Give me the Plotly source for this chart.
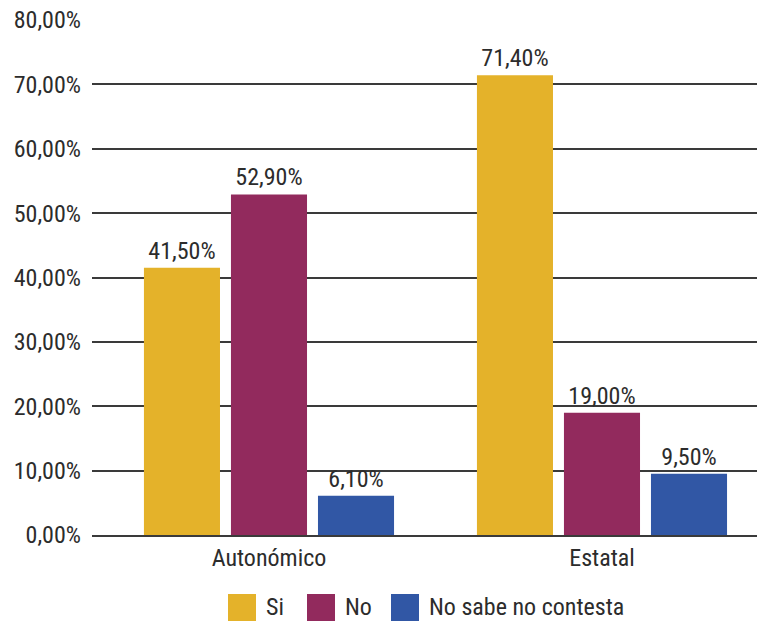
import plotly.graph_objects as go

categories = ["Autonómico", "Estatal"]
series_names = ["Si", "No", "No sabe no contesta"]
si_values = [0.415, 0.714]
no_values = [0.529, 0.190]
nsnc_values = [0.061, 0.095]
colors = ["#E4B22A", "#922A5D", "#3157A5"]
y_ticks = [0, 0.1, 0.2, 0.3, 0.4, 0.5, 0.6, 0.7, 0.8]

FONT = "Roboto Condensed, DejaVu Sans Condensed, Liberation Sans, sans-serif"
FS = 24
FW = 400
TXT = "#2c2c2c"
W, H = 757, 621
ML, MR, MT, MB = 92, 0, 20, 86

fig = go.Figure()
for name, vals, col in zip(series_names, [si_values, no_values, nsnc_values], colors):
    fig.add_trace(go.Bar(
        x=[0, 1], y=vals, name=name, marker=dict(color=col, line=dict(width=0)),
        texttemplate="%{y:.2%}", textposition="outside",
        textfont=dict(family=FONT, size=FS, color=TXT, weight=FW), cliponaxis=False,
        showlegend=False,
    ))

# manual legend (large square swatches)
pw = W - ML - MR
ph = H - MT - MB
def px_to_paper_x(px):
    return (px - ML) / pw
def py_to_paper_y(py):
    return (H - MB - py) / ph

shapes = []
annotations = []
sw_left = [228, 307, 391]
for name, col, x0 in zip(series_names, colors, sw_left):
    shapes.append(dict(type="rect", xref="paper", yref="paper",
                       x0=px_to_paper_x(x0), x1=px_to_paper_x(x0 + 28),
                       y0=py_to_paper_y(621), y1=py_to_paper_y(594),
                       fillcolor=col, line=dict(width=0)))
    annotations.append(dict(xref="paper", yref="paper", x=px_to_paper_x(x0 + 36),
                            y=py_to_paper_y(607), text=name, showarrow=False,
                            xanchor="left", yanchor="middle",
                            font=dict(family=FONT, size=FS, color=TXT, weight=FW)))

fig.update_layout(
    width=W, height=H,
    margin=dict(l=ML, r=MR, t=MT, b=MB, pad=0, autoexpand=False),
    paper_bgcolor="white", plot_bgcolor="white",
    separators=",.",
    barmode="group", bargap=0.216, bargroupgap=0.126,
    font=dict(family=FONT, size=FS, color=TXT, weight=FW),
    shapes=shapes, annotations=annotations,
    showlegend=False,
)
fig.update_xaxes(
    range=[-0.5315, 1.4655], tickmode="array", tickvals=[0, 1], ticktext=categories,
    showgrid=False, zeroline=False, showline=True, linecolor="#3a3a3a", linewidth=1.5,
    ticks="", ticklen=0, layer="above traces", automargin=False,
    tickfont=dict(family=FONT, size=FS, color=TXT, weight=FW),
)
fig.update_yaxes(
    range=[0, 0.8], tickmode="array", tickvals=y_ticks, tickformat=".2%",
    showgrid=True, gridcolor="#3a3a3a", gridwidth=1.5, zeroline=False,
    showline=False, ticks="", ticklabelstandoff=10, automargin=False,
    tickfont=dict(family=FONT, size=FS, color=TXT, weight=FW),
)
fig.write_html("out.html", config={"displayModeBar": False},
               post_script="document.body.style.margin='0';")
